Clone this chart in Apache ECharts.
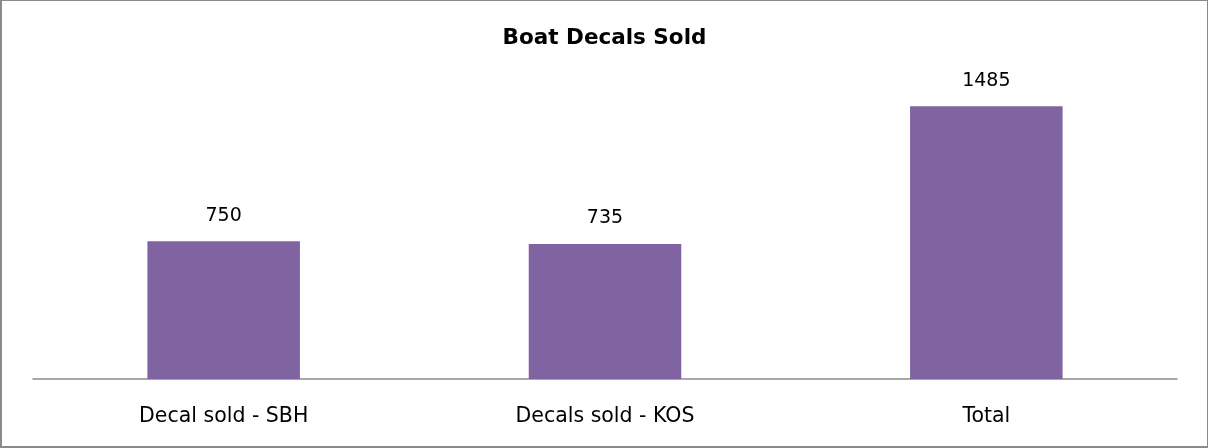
<!DOCTYPE html>
<html>
<head>
<meta charset="utf-8">
<script src="https://cdn.jsdelivr.net/npm/echarts@6/dist/echarts.min.js"></script>
<style>
  html, body { margin: 0; padding: 0; background: #fff; }
  #chart { width: 1208px; height: 448px; box-sizing: border-box; border: 1px solid #8a8a8a; border-left-width: 2px; border-bottom-width: 2px; }
</style>
</head>
<body>
<div id="chart"></div>
<script>
  // Decal sales by source
  const categories = ['Decal sold - SBH', 'Decals sold - KOS', 'Total'];
  const decalsSold = [750, 735, 1485];

  const chart = echarts.init(document.getElementById('chart'));
  chart.setOption({
    animation: false,
    title: {
      text: 'Boat Decals Sold',
      left: 'center',
      top: 21,
      textStyle: { fontFamily: 'DejaVu Sans, sans-serif', fontSize: 21.5, fontWeight: 'bold', color: '#000' }
    },
    grid: { left: 31, right: 30, top: 84, bottom: 67 },
    xAxis: {
      type: 'category',
      data: categories,
      axisLine: { lineStyle: { color: '#8c8c8c', width: 1.5 } },
      axisTick: { show: false },
      axisLabel: { color: '#000', fontFamily: 'DejaVu Sans, sans-serif', fontSize: 20.5, margin: 27 }
    },
    yAxis: {
      type: 'value',
      min: 0,
      max: 1600,
      show: false,
      splitLine: { show: false }
    },
    series: [{
      type: 'bar',
      data: decalsSold,
      barWidth: '40%',
      itemStyle: { color: '#8064A2' },
      label: {
        show: true,
        position: 'top',
        distance: 16,
        color: '#000',
        fontFamily: 'DejaVu Sans, sans-serif',
        fontSize: 19
      }
    }]
  });
</script>
</body>
</html>
